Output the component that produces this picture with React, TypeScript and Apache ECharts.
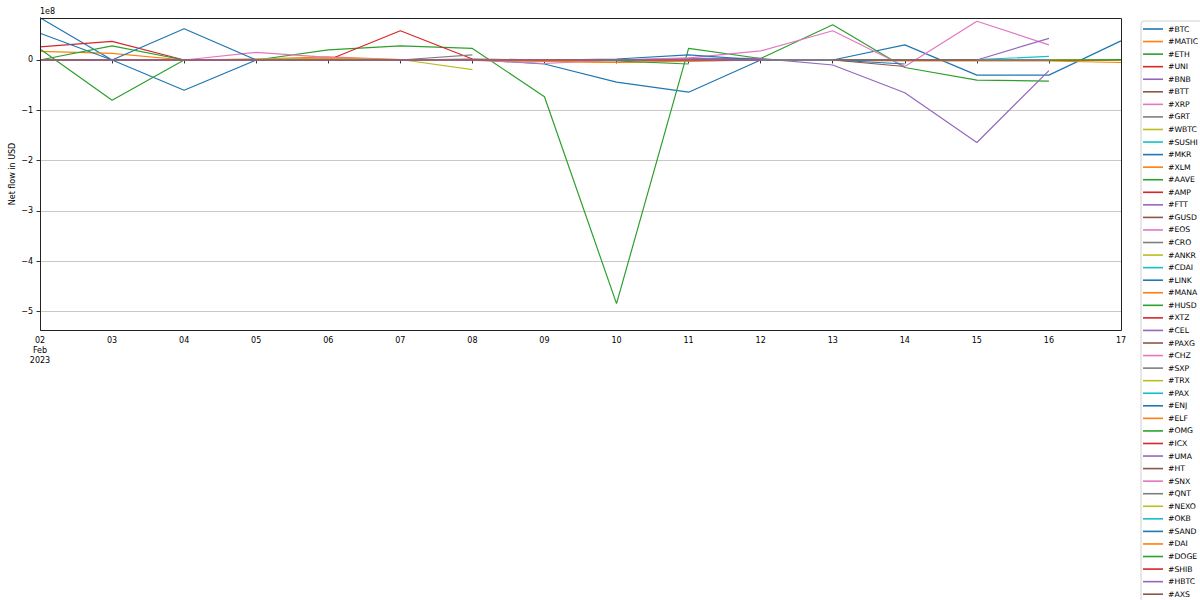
import React, { useEffect, useRef } from 'react';
import * as echarts from 'echarts';

// x categories (days of Feb 2023)
const DAYS = ['02', '03', '04', '05', '06', '07', '08', '09', '10', '11', '12', '13', '14', '15', '16', '17'];
const SCALE = 1e8; // values below are in units of 1e8 USD
const Y_MIN = -5.364;
const Y_MAX = 0.834;
const Y_TICKS = [-5, -4, -3, -2, -1, 0];

const PALETTE = ['#1f77b4', '#ff7f0e', '#2ca02c', '#d62728', '#9467bd', '#8c564b', '#e377c2', '#7f7f7f', '#bcbd22', '#17becf'];

const BTC = [0.84, 0.0, -0.6, 0.0, 0.01, 0.0, 0.01, -0.08, -0.44, -0.64, 0.0, 0.0, 0.3, -0.3, -0.3, 0.38];
const MATIC = [0.17, 0.13, 0.0, 0.02, 0.06, 0.01, -0.01, -0.02, -0.05, -0.03, 0.0, -0.01, -0.02, -0.02, -0.02, -0.05];
const ETH = [0.22, -0.8, 0.0, 0.0, 0.2, 0.28, 0.23, -0.73, -4.84, 0.23, 0.03, 0.7, -0.15, -0.4, -0.42, null];
const UNI = [0.26, 0.37, 0.0, 0.0, 0.0, 0.58, 0.02, null, null, null, null, null, null, null, null, null];
const BNB = [0.0, 0.0, 0.0, 0.0, 0.0, 0.0, 0.0, 0.0, 0.0, 0.03, 0.03, -0.1, -0.65, -1.64, -0.21, null];
const BTT = [0.01, 0.0, 0.0, 0.0, 0.03, 0.0, 0.02, 0.0, 0.0, 0.0, 0.0, 0.0, -0.13, null, null, null];
const XRP = [0.0, 0.0, 0.0, 0.15, 0.05, 0.0, 0.0, -0.07, 0.0, 0.04, 0.18, 0.58, -0.13, 0.77, 0.3, null];
const GRT = [0.0, 0.0, 0.0, 0.0, 0.02, 0.0, 0.1, null, null, null, null, null, null, null, null, null];
const WBTC = [0.01, 0.0, 0.0, 0.02, 0.03, 0.01, -0.19, null, null, null, null, null, null, null, null, null];
const SUSHI = [0.0, 0.0, 0.0, 0.0, 0.0, 0.0, 0.0, 0.0, 0.0, 0.0, 0.01, 0.01, 0.01, 0.01, 0.07, null];
const MKR = [0.53, 0.0, 0.62, 0.0, 0.0, 0.0, 0.0, 0.0, 0.02, 0.1, 0.0, 0.0, -0.08, null, null, null];
const XLM = [0.0, 0.0, 0.0, 0.0, 0.01, 0.0, -0.01, -0.03, -0.05, -0.02, null, null, null, null, null, null];
const AAVE = [0.0, 0.28, 0.0, 0.0, 0.0, 0.0, 0.0, 0.0, 0.0, 0.0, 0.0, 0.0, 0.0, 0.0, 0.0, 0.01];
const AMP = [0.0, 0.0, 0.0, 0.0, 0.0, 0.0, 0.0, null, null, null, null, null, null, null, null, null];
const FTT = [0.0, 0.0, 0.0, 0.0, 0.0, 0.0, 0.0, 0.0, 0.0, 0.0, 0.0, 0.0, 0.0, 0.0, 0.43, null];
const GUSD = [0.0, 0.0, 0.0, 0.0, 0.0, 0.0, 0.0, 0.0, 0.0, 0.0, 0.0, null, null, null, null, null];
const EOS = [0.0, 0.0, 0.01, 0.0, 0.0, 0.0, 0.0, null, null, null, null, null, null, null, null, null];
const CRO = [0.0, 0.0, 0.0, 0.0, 0.0, 0.0, 0.0, 0.0, 0.0, 0.0, null, null, null, null, null, null];
const ANKR = [0.0, 0.0, 0.0, 0.0, 0.01, 0.0, 0.0, null, null, null, null, null, null, null, null, null];
const CDAI = [0.0, 0.0, 0.0, 0.0, 0.0, 0.0, 0.0, 0.0, 0.0, 0.0, 0.0, 0.0, null, null, null, null];
const LINK = [0.0, 0.0, 0.0, 0.0, 0.0, 0.0, 0.0, 0.0, 0.0, 0.0, 0.0, 0.0, 0.0, null, null, null];
const MANA = [0.0, 0.0, 0.0, 0.0, 0.02, 0.0, 0.0, 0.0, null, null, null, null, null, null, null, null];
const HUSD = [0.0, 0.0, 0.0, 0.0, 0.0, 0.0, 0.0, 0.0, -0.02, -0.08, null, null, null, null, null, null];
const XTZ = [0.0, 0.0, 0.0, 0.0, 0.0, 0.0, 0.0, null, null, null, null, null, null, null, null, null];
const CEL = [0.0, 0.0, 0.0, 0.0, 0.0, 0.0, 0.0, 0.0, 0.0, 0.0, 0.0, 0.0, null, null, null, null];
const PAXG = [0.0, 0.0, 0.0, 0.0, 0.0, 0.0, 0.0, 0.0, 0.0, 0.0, null, null, null, null, null, null];
const CHZ = [0.0, 0.0, 0.0, 0.0, 0.0, 0.0, 0.0, 0.0, null, null, null, null, null, null, null, null];
const SXP = [0.0, 0.0, 0.0, 0.0, 0.0, 0.0, 0.0, null, null, null, null, null, null, null, null, null];
const TRX = [0.0, 0.0, 0.0, 0.0, 0.0, 0.0, 0.0, 0.0, 0.0, null, null, null, null, null, null, null];
const PAX = [0.0, 0.0, 0.0, 0.0, 0.0, 0.0, 0.0, 0.0, 0.0, 0.0, 0.0, 0.0, 0.0, 0.0, 0.0, null];
const ENJ = [0.0, 0.0, 0.0, 0.0, 0.0, 0.0, 0.0, 0.0, 0.0, 0.0, 0.0, null, null, null, null, null];
const ELF = [0.0, 0.0, 0.0, 0.0, 0.0, 0.0, 0.0, 0.0, 0.0, null, null, null, null, null, null, null];
const OMG = [0.0, 0.0, 0.0, 0.0, 0.0, 0.0, 0.0, 0.0, 0.0, 0.0, 0.0, 0.0, 0.0, null, null, null];
const ICX = [0.0, 0.0, 0.0, 0.0, 0.0, 0.0, 0.0, 0.0, null, null, null, null, null, null, null, null];
const UMA = [0.0, 0.0, 0.0, 0.0, 0.0, 0.0, 0.0, 0.0, 0.0, 0.0, 0.0, 0.0, null, null, null, null];
const HT = [0.0, 0.0, 0.0, 0.0, 0.0, 0.0, 0.0, 0.0, 0.0, 0.0, 0.0, 0.0, 0.0, 0.0, null, null];
const SNX = [0.0, 0.0, 0.0, 0.0, 0.0, 0.0, 0.0, 0.0, 0.0, 0.0, null, null, null, null, null, null];
const QNT = [0.0, 0.0, 0.0, 0.0, 0.0, 0.0, 0.0, 0.0, 0.0, 0.0, 0.0, 0.0, 0.0, null, null, null];
const NEXO = [0.0, 0.0, 0.0, 0.0, 0.0, 0.0, 0.0, null, null, null, null, null, null, null, null, null];
const OKB = [0.0, 0.0, 0.0, 0.0, 0.0, 0.0, 0.0, 0.0, 0.0, 0.0, 0.0, 0.0, 0.0, 0.0, null, null];
const SAND = [0.0, 0.0, 0.0, 0.0, 0.0, 0.0, 0.0, 0.0, 0.0, 0.0, 0.0, 0.0, null, null, null, null];
const DAI = [0.0, 0.0, 0.0, 0.0, 0.0, 0.0, 0.0, 0.0, 0.0, 0.0, 0.0, 0.0, 0.0, 0.0, 0.0, -0.01];
const DOGE = [0.0, 0.0, 0.0, 0.0, 0.0, 0.0, 0.0, 0.0, 0.0, 0.0, 0.0, 0.0, 0.0, 0.0, 0.0, 0.0];
const SHIB = [0.0, 0.0, 0.0, 0.0, 0.0, 0.0, 0.0, 0.0, 0.0, 0.0, 0.0, null, null, null, null, null];
const HBTC = [0.0, 0.0, 0.0, 0.0, 0.0, 0.0, 0.0, 0.0, 0.0, 0.0, 0.0, 0.0, 0.0, 0.0, 0.0, null];
const AXS = [null, null, null, null, null, null, null, null, null, null, null, 0.0, 0.0, 0.0, null, null];

const SERIES: [string, (number | null)[]][] = [
  ['#BTC', BTC], ['#MATIC', MATIC], ['#ETH', ETH], ['#UNI', UNI], ['#BNB', BNB], ['#BTT', BTT],
  ['#XRP', XRP], ['#GRT', GRT], ['#WBTC', WBTC], ['#SUSHI', SUSHI], ['#MKR', MKR], ['#XLM', XLM],
  ['#AAVE', AAVE], ['#AMP', AMP], ['#FTT', FTT], ['#GUSD', GUSD], ['#EOS', EOS], ['#CRO', CRO],
  ['#ANKR', ANKR], ['#CDAI', CDAI], ['#LINK', LINK], ['#MANA', MANA], ['#HUSD', HUSD], ['#XTZ', XTZ],
  ['#CEL', CEL], ['#PAXG', PAXG], ['#CHZ', CHZ], ['#SXP', SXP], ['#TRX', TRX], ['#PAX', PAX],
  ['#ENJ', ENJ], ['#ELF', ELF], ['#OMG', OMG], ['#ICX', ICX], ['#UMA', UMA], ['#HT', HT],
  ['#SNX', SNX], ['#QNT', QNT], ['#NEXO', NEXO], ['#OKB', OKB], ['#SAND', SAND], ['#DAI', DAI],
  ['#DOGE', DOGE], ['#SHIB', SHIB], ['#HBTC', HBTC], ['#AXS', AXS],
];

const FONT = 'DejaVu Sans';

const fmtY = (v: number) => {
  const n = Math.round(v / SCALE);
  if (n === 0) return '0';
  return (n < 0 ? '\u2212' : '') + Math.abs(n);
};

export default function App() {
  const ref = useRef<HTMLDivElement>(null);
  useEffect(() => {
    if (!ref.current) return;
    const chart = echarts.init(ref.current, undefined, { renderer: 'svg' });
    const L = 40, T = 18, R = 1121, B = 330;
    chart.setOption({
      animation: false,
      color: PALETTE,
      textStyle: { fontFamily: FONT },
      grid: { left: L, top: T, right: 1200 - R, bottom: 600 - B, containLabel: false, outerBoundsMode: 'none' },
      xAxis: {
        type: 'category',
        data: DAYS,
        boundaryGap: false,
        axisLine: { show: true, lineStyle: { color: '#000', width: 1 } },
        axisTick: { show: true, interval: 0, length: 3.5, lineStyle: { color: '#000', width: 0.8 } },
        axisLabel: {
          interval: 0,
          color: '#000',
          fontSize: 8,
          fontFamily: FONT,
          margin: 5,
          lineHeight: 10,
          formatter: (v: string, i: number) => (i === 0 ? `${v}\nFeb\n2023` : v),
        },
        splitLine: { show: false },
      },
      yAxis: {
        type: 'value',
        min: Y_MIN * SCALE,
        max: Y_MAX * SCALE,
        splitNumber: 5,
        name: 'Net flow in USD',
        nameLocation: 'middle',
        nameRotate: 90,
        nameGap: 24,
        nameMoveOverlap: false,
        nameTextStyle: { color: '#000', fontSize: 8, fontFamily: FONT },
        axisLine: { show: true, lineStyle: { color: '#000', width: 1 } },
        axisTick: {
          show: true,
          length: 3.5,
          lineStyle: { color: '#000', width: 0.8 },
          customValues: Y_TICKS.map((t) => t * SCALE),
        },
        axisLabel: {
          color: '#000',
          fontSize: 8,
          fontFamily: FONT,
          margin: 7,
          customValues: Y_TICKS.map((t) => t * SCALE),
          formatter: fmtY,
        },
        splitLine: { show: true, lineStyle: { color: '#c8c8c8', width: 1 } },
      },
      legend: {
        show: true,
        type: 'plain',
        orient: 'vertical',
        left: 1141,
        top: 21,
        height: 900,
        padding: [3, 4, 3, 2],
        itemGap: 2.56,
        itemWidth: 20,
        itemHeight: 1.6,
        icon: 'rect',
        backgroundColor: 'rgba(255,255,255,0.8)',
        borderColor: '#d0d0d0',
        borderWidth: 1,
        borderRadius: 3,
        textStyle: { color: '#000', fontSize: 7.7, fontFamily: FONT, lineHeight: 10 },
        data: SERIES.map(([n]) => n),
      },
      graphic: [
        {
          type: 'rect',
          z: 100,
          silent: true,
          shape: { x: L + 0.5, y: T + 0.5, width: R - L, height: B - T },
          style: { fill: 'none', stroke: '#222', lineWidth: 1 },
        },
        {
          type: 'text',
          left: L,
          top: 7,
          style: { text: '1e8', fontSize: 8, fontFamily: FONT, fill: '#000' },
        },
      ],
      series: SERIES.map(([name, vals], i) => ({
        name,
        type: 'line',
        data: vals.map((v) => (v === null ? null : v * SCALE)),
        symbol: 'none',
        connectNulls: false,
        clip: true,
        lineStyle: { width: 1.2, color: PALETTE[i % 10] },
        itemStyle: { color: PALETTE[i % 10] },
      })),
    });
    return () => chart.dispose();
  }, []);
  return <div ref={ref} style={{ position: 'absolute', left: 0, top: 0, width: 1200, height: 600 }} />;
}
